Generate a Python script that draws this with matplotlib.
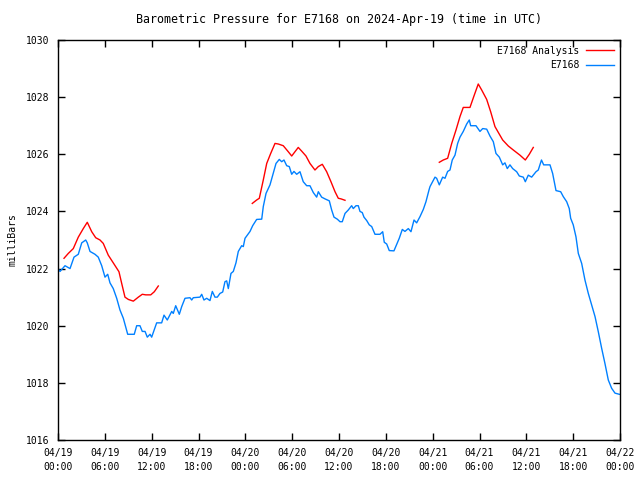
import matplotlib
matplotlib.use('Agg')
import matplotlib.pyplot as plt
import numpy as np

# hours since 2024-04-19 00:00 UTC, pressure in millibars
obs_hours = [0.0, 0.26, 0.90, 1.54, 2.05, 2.60, 3.04, 3.55, 3.75, 4.10, 4.74, 5.16, 5.60, 6.02, 6.37,
             6.66, 7.08, 7.52, 7.94, 8.37, 8.93, 9.77, 10.08, 10.50, 10.80, 11.15, 11.44, 11.79, 12.00,
             12.64, 13.28, 13.58, 14.00, 14.57, 14.77, 15.08, 15.54, 15.85, 16.27, 16.91, 17.13, 17.33,
             18.19, 18.41, 18.70, 19.05, 19.47, 19.77, 20.11, 20.41, 20.75, 21.10, 21.39, 21.61, 21.82,
             22.16, 22.46, 22.80, 23.10, 23.53, 23.74, 23.96, 24.60, 24.94, 25.45, 26.10, 26.30, 26.65,
             27.16, 27.51, 27.93, 28.35, 28.66, 28.95, 29.30, 29.63, 29.94, 30.23, 30.58, 31.00, 31.42,
             31.86, 32.28, 32.71, 33.14, 33.35, 33.78, 34.20, 34.76, 35.06, 35.36, 35.78, 36.13, 36.42,
             36.77, 37.19, 37.62, 37.83, 38.18, 38.47, 38.69, 38.98, 39.20, 39.55, 39.88, 40.19, 40.61,
             41.25, 41.60, 41.80, 42.11, 42.44, 43.04, 43.39, 43.72, 44.11, 44.45, 44.88, 45.22, 45.61,
             45.95, 46.38, 46.80, 47.14, 47.53, 47.66, 48.30, 48.51, 48.85, 49.28, 49.58, 49.92, 50.22,
             50.51, 50.86, 51.20, 51.50, 51.92, 52.36, 52.69, 52.87, 53.55, 54.06, 54.41, 54.92, 55.34,
             55.77, 56.11, 56.54, 56.97, 57.26, 57.56, 57.90, 58.25, 58.76, 59.10, 59.61, 59.87, 60.25,
             60.68, 61.24, 61.53, 61.94, 62.22, 63.03, 63.37, 63.80, 64.40, 64.73, 65.17, 65.50, 65.68,
             66.01, 66.36, 66.66, 67.09, 67.51, 67.94, 68.37, 68.80, 69.22, 69.65, 70.07, 70.50, 70.93,
             71.36, 71.91]
obs_mb = [1022.0, 1021.9, 1022.1, 1022.0, 1022.4, 1022.5, 1022.9, 1023.0, 1022.9, 1022.6, 1022.5, 1022.4,
          1022.1, 1021.7, 1021.8, 1021.5, 1021.3, 1020.96, 1020.55, 1020.26, 1019.7, 1019.7, 1020.0,
          1020.0, 1019.8, 1019.8, 1019.6, 1019.7, 1019.6, 1020.1, 1020.1, 1020.37, 1020.2, 1020.5,
          1020.43, 1020.7, 1020.4, 1020.67, 1020.96, 1020.98, 1020.9, 1020.98, 1021.0, 1021.1, 1020.9,
          1020.96, 1020.88, 1021.2, 1021.0, 1021.0, 1021.13, 1021.18, 1021.54, 1021.57, 1021.3,
          1021.83, 1021.9, 1022.2, 1022.6, 1022.8, 1022.77, 1023.06, 1023.3, 1023.5, 1023.72, 1023.73,
          1024.17, 1024.63, 1024.93, 1025.27, 1025.68, 1025.82, 1025.74, 1025.8, 1025.6, 1025.57,
          1025.3, 1025.4, 1025.3, 1025.39, 1025.04, 1024.9, 1024.9, 1024.66, 1024.5, 1024.69, 1024.5,
          1024.44, 1024.37, 1024.05, 1023.8, 1023.73, 1023.64, 1023.64, 1023.93, 1024.05, 1024.2,
          1024.1, 1024.2, 1024.2, 1024.0, 1023.96, 1023.8, 1023.68, 1023.53, 1023.47, 1023.2, 1023.2,
          1023.29, 1022.92, 1022.86, 1022.63, 1022.62, 1022.85, 1023.06, 1023.37, 1023.3, 1023.4,
          1023.29, 1023.7, 1023.6, 1023.82, 1024.07, 1024.34, 1024.75, 1024.87, 1025.2, 1025.16,
          1024.93, 1025.2, 1025.16, 1025.4, 1025.45, 1025.8, 1025.97, 1026.38, 1026.6, 1026.8, 1027.06,
          1027.2, 1027.0, 1027.0, 1026.8, 1026.9, 1026.88, 1026.64, 1026.44, 1026.03, 1025.9, 1025.63,
          1025.7, 1025.5, 1025.63, 1025.5, 1025.39, 1025.24, 1025.2, 1025.04, 1025.27, 1025.2, 1025.39,
          1025.45, 1025.8, 1025.63, 1025.63, 1025.33, 1024.73, 1024.69, 1024.52, 1024.34, 1024.1,
          1023.76, 1023.53, 1023.11, 1022.53, 1022.18, 1021.6, 1021.13, 1020.72, 1020.32, 1019.79,
          1019.21, 1018.68, 1018.1, 1017.81, 1017.64, 1017.6]

# analysis: three separate runs, gaps marked with nan
ana_hours = [0.77, 1.32, 1.96, 2.60, 3.24, 3.75, 4.32, 4.83, 5.38, 5.80, 6.44, 7.08, 7.81, 8.16, 8.58,
             9.01, 9.65, 10.29, 10.80, 11.24, 11.88, 12.34, 12.85, np.nan,
             24.89, 25.45, 25.79, 26.30, 26.74, 27.25, 27.80, 28.22, 28.86, 29.50, 29.94, 30.36, 30.78,
             31.22, 31.77, 32.28, 32.92, 33.35, 33.86, 34.42, 34.97, 35.49, 35.91, 36.25, 36.77, np.nan,
             48.85, 49.36, 49.92, 50.44, 50.99, 51.50, 51.92, 52.78, 53.29, 53.84, 54.28, 54.92, 55.43,
             55.98, 56.42, 56.97, 57.69, 58.33, 59.18, 59.87, 60.38, 60.89]
ana_mb = [1022.36, 1022.53, 1022.7, 1023.1, 1023.4, 1023.62, 1023.29, 1023.08, 1023.0, 1022.88, 1022.47,
          1022.2, 1021.89, 1021.48, 1021.0, 1020.92, 1020.86, 1021.0, 1021.1, 1021.08, 1021.08, 1021.19,
          1021.39, np.nan,
          1024.28, 1024.4, 1024.46, 1025.1, 1025.68, 1026.03, 1026.38, 1026.36, 1026.3, 1026.09, 1025.94,
          1026.09, 1026.24, 1026.11, 1025.94, 1025.68, 1025.45, 1025.57, 1025.65, 1025.39, 1025.04,
          1024.69, 1024.46, 1024.44, 1024.39, np.nan,
          1025.72, 1025.8, 1025.86, 1026.38, 1026.85, 1027.32, 1027.64, 1027.64, 1028.04, 1028.46,
          1028.25, 1027.92, 1027.49, 1026.97, 1026.76, 1026.5, 1026.29, 1026.15, 1025.97, 1025.8,
          1026.0, 1026.24]

tick_hours = list(range(0, 73, 6))
tick_labels = ['04/19\n00:00', '04/19\n06:00', '04/19\n12:00', '04/19\n18:00',
               '04/20\n00:00', '04/20\n06:00', '04/20\n12:00', '04/20\n18:00',
               '04/21\n00:00', '04/21\n06:00', '04/21\n12:00', '04/21\n18:00',
               '04/22\n00:00']

plt.rcParams['font.family'] = 'DejaVu Sans Mono'
plt.rcParams['font.size'] = 7

fig = plt.figure(figsize=(6.4, 4.8), dpi=100)
ax = fig.add_axes([58/640, 40/480, 562/640, 400/480])

ax.plot(ana_hours, ana_mb, color='#ff0000', lw=1.0, label='E7168 Analysis')
ax.plot(obs_hours, obs_mb, color='#0080ff', lw=1.0, label='E7168')

ax.set_xlim(0, 72)
ax.set_ylim(1016, 1030)
ax.set_yticks(range(1016, 1031, 2))
ax.set_xticks(tick_hours, tick_labels, linespacing=1.4)
ax.tick_params(direction='in', length=5, width=1, top=True, right=True, pad=6)
for s in ax.spines.values():
    s.set_linewidth(1)

ax.set_ylabel('milliBars', labelpad=6)
ax.set_title('Barometric Pressure for E7168 on 2024-Apr-19 (time in UTC)', pad=12)

ax.legend(loc='upper right', frameon=False, markerfirst=False, handlelength=2.9,
          borderaxespad=0.4, borderpad=0.2, labelspacing=0.45, handletextpad=0.7)

plt.savefig('out.png', dpi=100)
